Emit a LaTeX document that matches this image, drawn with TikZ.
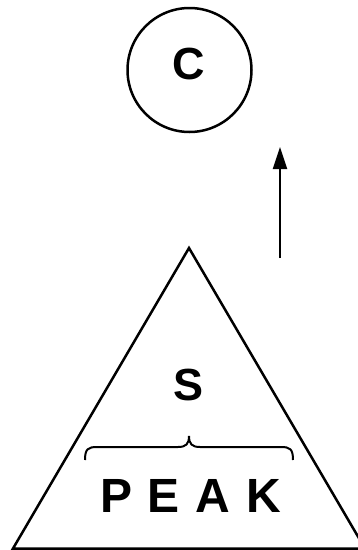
\documentclass[tikz,border=0pt]{standalone}
\usepackage{fontspec}
\setmainfont{Liberation Sans}
\usetikzlibrary{arrows.meta}
\begin{document}
\begin{tikzpicture}[x=1pt,y=-1pt,
  line/.style={line width=2.5pt,black},
  bigletter/.style={font=\fontsize{45}{45}\selectfont\bfseries,inner sep=0pt},
  peaktext/.style={font=\fontsize{48}{48}\selectfont\bfseries,inner sep=0pt}]
\useasboundingbox (0,0) rectangle (358,550);
\node[line,draw,circle,minimum size=124pt,inner sep=0pt] (c) at (189.5,70) {};
\node[bigletter] (cl) at (189,64) {C};
\coordinate (apex) at (189,248);
\coordinate (bl) at (13,548.5);
\coordinate (br) at (365,548.5);
\draw[line,line join=miter] (apex) -- (bl) -- (br) -- cycle;
\node[bigletter] (s) at (189,385) {S};
\node[peaktext] (peak) at (190.5,496) {P\kern0.33em E\kern0.33em A\kern0.33em K};
\coordinate (abot) at (280,258);
\coordinate (atop) at (280,147);
\draw[line width=2.2pt,-{Triangle[length=22pt,width=14pt]}] (abot) -- (atop);
\draw[line width=2pt] (85,460) .. controls (85,449) and (88,447) .. (97,447) -- (178,447) .. controls (186,447) and (189,444) .. (189,436) .. controls (189,444) and (192,447) .. (200,447) -- (281,447) .. controls (290,447) and (293,449) .. (293,460);
\end{tikzpicture}
\end{document}
